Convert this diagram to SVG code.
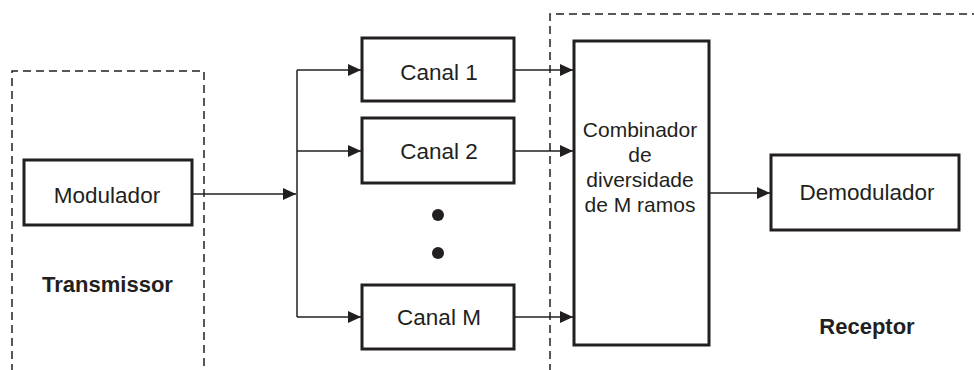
<svg xmlns="http://www.w3.org/2000/svg" width="974" height="370" viewBox="0 0 974 370">
<style>
.box{fill:#fff;stroke:#231f20;stroke-width:3}
.dash{fill:none;stroke:#231f20;stroke-width:1.5;stroke-dasharray:8,5}
.ln{fill:none;stroke:#231f20;stroke-width:1.5}
.t{font-family:"Liberation Sans",Arial,sans-serif;font-size:22.5px;fill:#231f20;text-anchor:middle}
.c{font-size:21px}
.b{font-weight:bold;font-size:22px}
</style>
<defs>
<marker id="ah" markerWidth="14" markerHeight="12" refX="13" refY="6" orient="auto" markerUnits="userSpaceOnUse">
<path d="M0,0 L13,6 L0,12 Z" fill="#231f20"/>
</marker>
</defs>
<g id="transmissor-area">
<path class="dash" d="M12,372 V71 H204 V372"/>
<text class="t b" x="107.5" y="292">Transmissor</text>
</g>
<g id="receptor-area">
<path class="dash" d="M550,372 V14 H976"/>
<text class="t b" x="867" y="334">Receptor</text>
</g>
<g id="connectors">
<line class="ln" x1="192" y1="194" x2="296" y2="194" marker-end="url(#ah)"/>
<line class="ln" x1="297" y1="70" x2="297" y2="317"/>
<line class="ln" x1="297" y1="70" x2="361" y2="70" marker-end="url(#ah)"/>
<line class="ln" x1="297" y1="151" x2="361" y2="151" marker-end="url(#ah)"/>
<line class="ln" x1="297" y1="317" x2="361" y2="317" marker-end="url(#ah)"/>
<line class="ln" x1="514" y1="70" x2="573" y2="70" marker-end="url(#ah)"/>
<line class="ln" x1="514" y1="151" x2="573" y2="151" marker-end="url(#ah)"/>
<line class="ln" x1="514" y1="317" x2="573" y2="317" marker-end="url(#ah)"/>
<line class="ln" x1="709" y1="193" x2="770" y2="193" marker-end="url(#ah)"/>
</g>
<g id="modulador">
<rect class="box" x="24" y="160" width="168" height="65"/>
<text class="t" x="107" y="203">Modulador</text>
</g>
<g id="canal1">
<rect class="box" x="362" y="38" width="152" height="63"/>
<text class="t" x="439" y="80">Canal 1</text>
</g>
<g id="canal2">
<rect class="box" x="362" y="118" width="152" height="65"/>
<text class="t" x="439" y="159">Canal 2</text>
</g>
<g id="dots">
<circle cx="438" cy="215" r="6" fill="#231f20"/>
<circle cx="438" cy="253" r="6" fill="#231f20"/>
</g>
<g id="canalM">
<rect class="box" x="362" y="285" width="152" height="64"/>
<text class="t" x="439" y="325">Canal M</text>
</g>
<g id="combinador">
<rect class="box" x="574" y="41" width="135" height="304"/>
<text class="t c" x="640" y="137">Combinador</text>
<text class="t c" x="640" y="162">de</text>
<text class="t c" x="640" y="187">diversidade</text>
<text class="t c" x="640" y="212">de M ramos</text>
</g>
<g id="demodulador">
<rect class="box" x="771" y="155" width="188" height="75"/>
<text class="t" x="867" y="200">Demodulador</text>
</g>
</svg>
